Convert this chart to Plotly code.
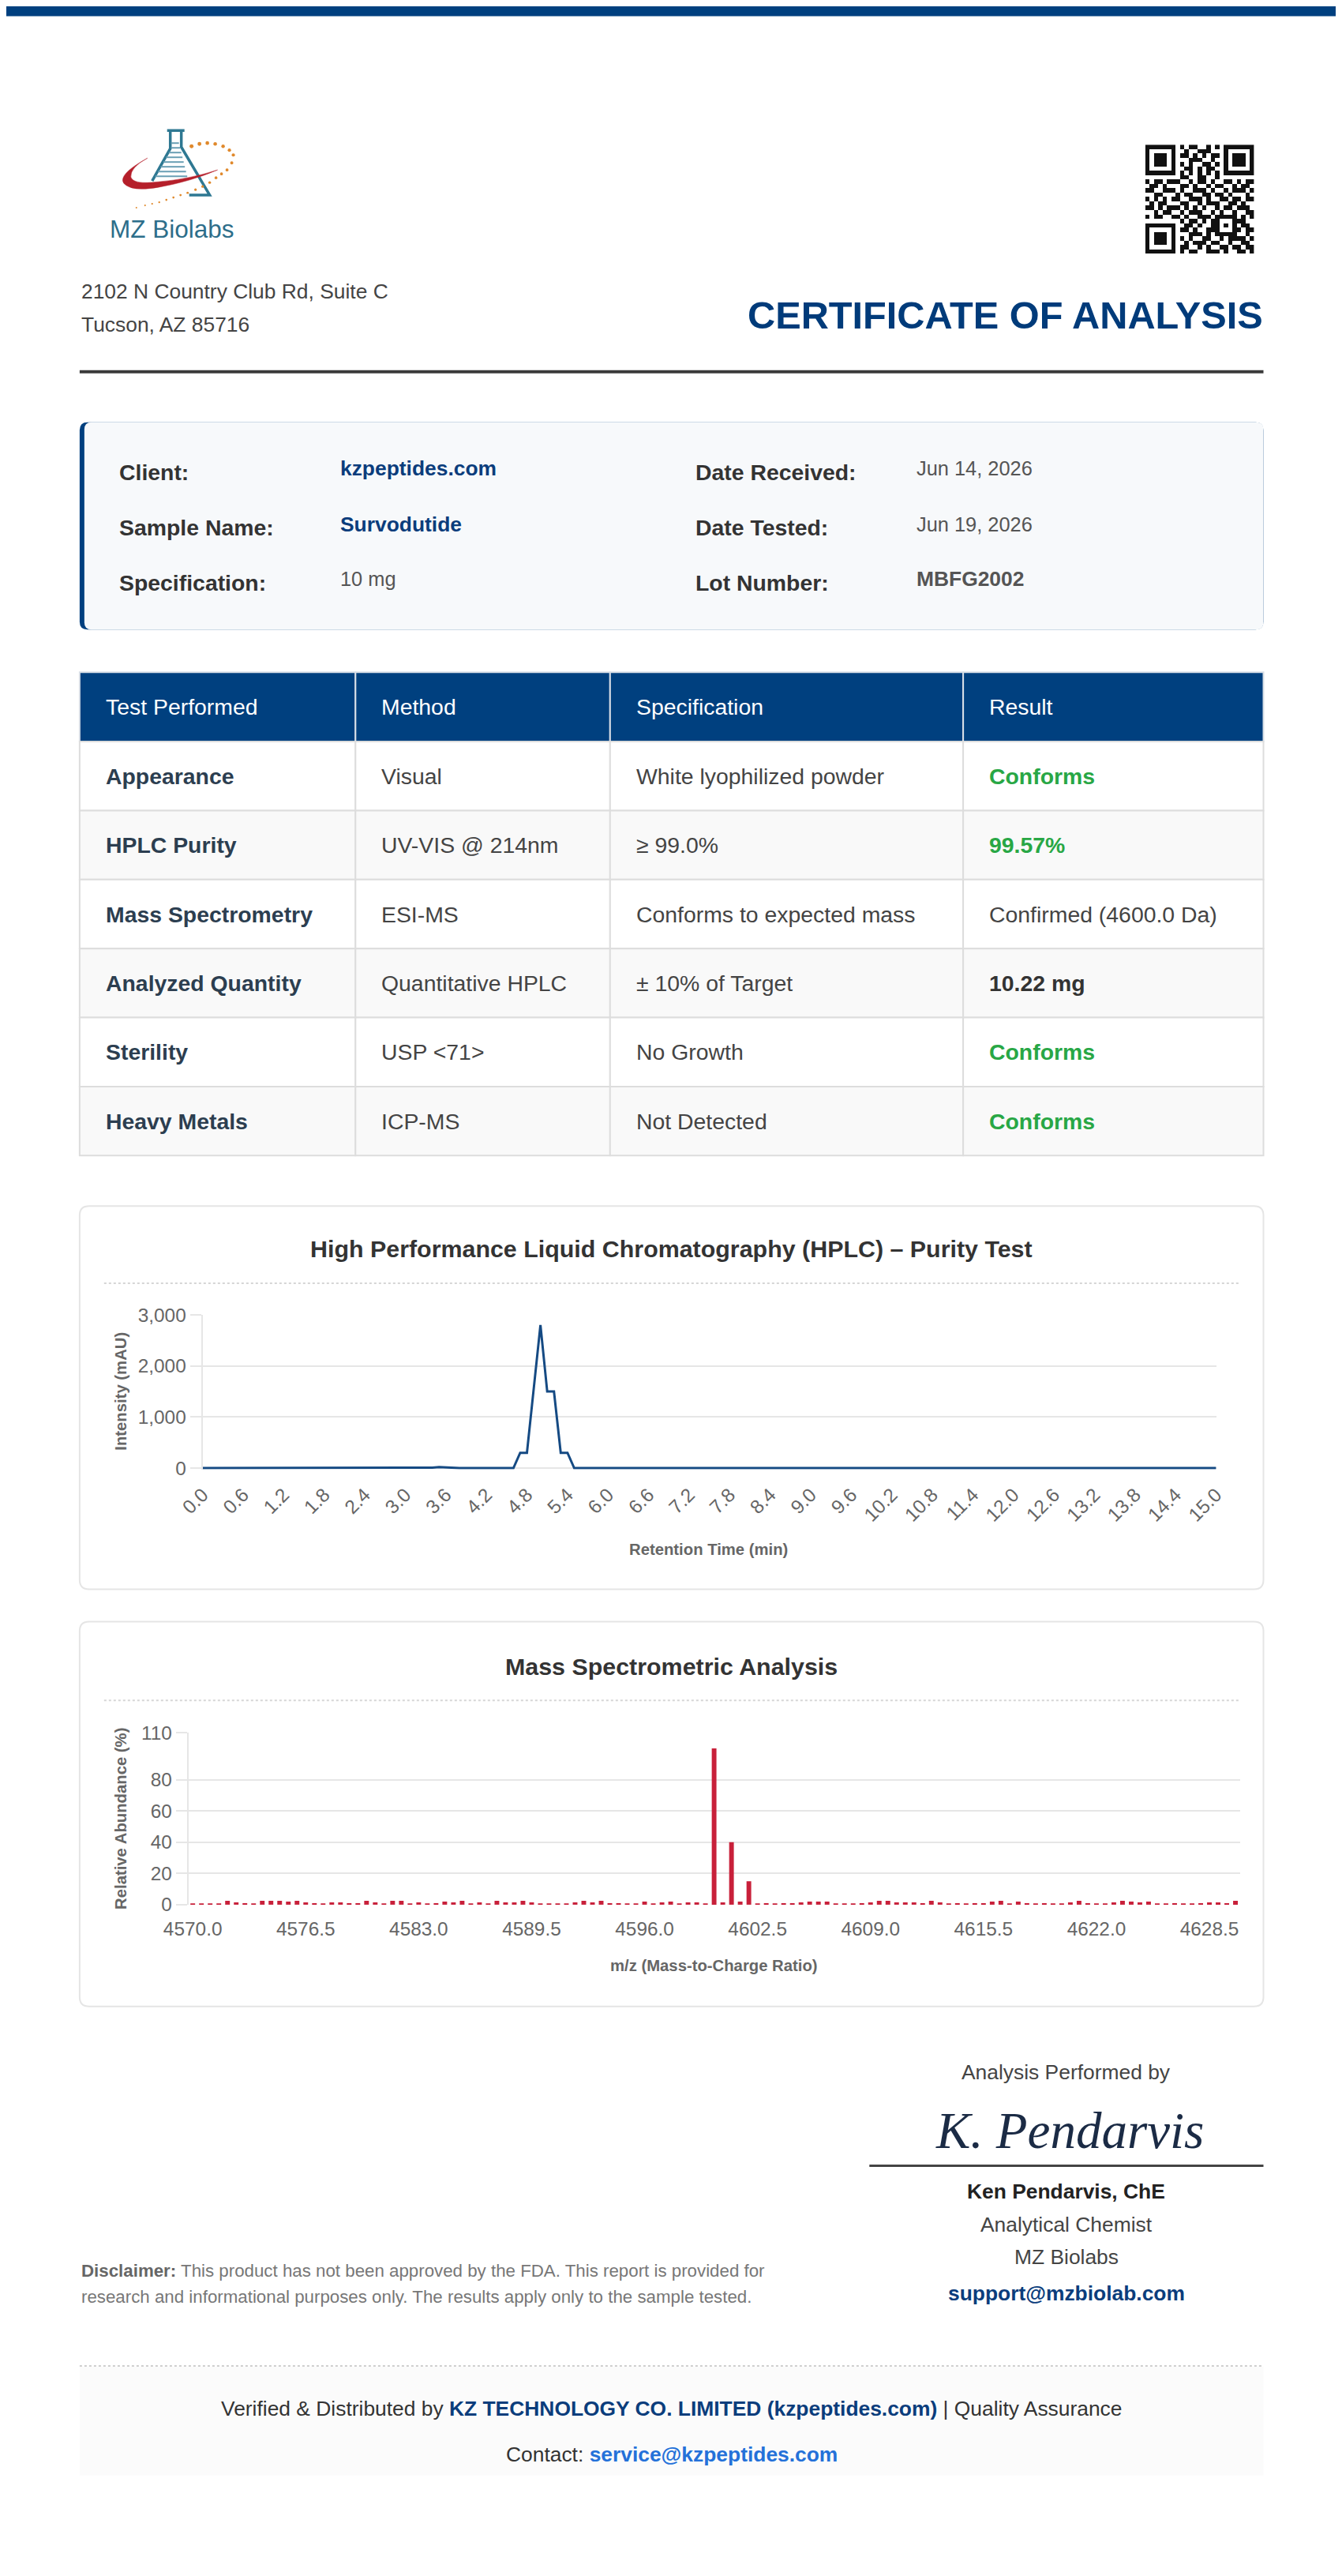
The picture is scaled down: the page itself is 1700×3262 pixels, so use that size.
import html
import plotly.graph_objects as go

# The page body keeps its default 8px margin, so the figure is 16px smaller than the window.
# The photographed page also comes back slightly offset and squeezed, so every position
# measured on the 1700x3262 reference goes through a small linear correction.
PAGE_W, PAGE_H, OFF = 1700, 3262, 8
W, H = PAGE_W - 2 * OFF, PAGE_H - 2 * OFF
KX, BX = 1.0252, -32.0
KY, BY = 1.0069, -14.7
FS = 1.015   # font size correction for the horizontal squeeze

SANS = "Liberation Sans, Arial, Helvetica, sans-serif"
SERIF = "Liberation Serif, Times New Roman, serif"

NAVY = "#00407f"
TITLE_BLUE = "#003b7a"
LINK_BLUE = "#0b3d7c"
GREEN = "#28a745"
GRID = "#e6e6e6"
TICK = "#666666"

# ---------------- data ----------------
hplc_time = [round(i * 0.1, 1) for i in range(151)]   # minutes, 0.1 min sampling
hplc_mau = [
    0, 0, 0, 0, 0, 0, 0, 0, 0, 0,
    0, 0, 0, 0, 0, 0, 0, 0, 0, 0,
    0, 0, 0, 0, 0, 0, 0, 0, 0, 0,
    0, 0, 0, 0, 10, 20, 10, 0, 0, 0,
    0, 0, 0, 0, 0, 0, 0, 300, 300, 1550,
    2800, 1500, 1500, 300, 300, 0, 0, 0, 0, 0,
    0, 0, 0, 0, 0, 0, 0, 0, 0, 0,
    0, 0, 0, 0, 0, 0, 0, 0, 0, 0,
    0, 0, 0, 0, 0, 0, 0, 0, 0, 0,
    0, 0, 0, 0, 0, 0, 0, 0, 0, 0,
    0, 0, 0, 0, 0, 0, 0, 0, 0, 0,
    0, 0, 0, 0, 0, 0, 0, 0, 0, 0,
    5, 0, 0, 0, 0, 0, 0, 0, 0, 0,
    0, 0, 5, 0, 0, 0, 0, 0, 0, 0,
    0, 0, 0, 0, 0, 0, 0, 0, 0, 0,
    0,
]

ms_mz = [4570.0 + 0.5 * i for i in range(121)]      # m/z bins, 0.5 step
ms_abundance = [
    0.5, 0.5, 0.5, 0.5, 2.5, 1.5, 1.0, 0.5, 2.5, 2.5,
    2.5, 2.0, 2.5, 1.5, 1.0, 0.5, 1.5, 1.5, 1.0, 1.0,
    2.5, 1.5, 0.5, 2.5, 2.5, 0.5, 1.5, 0.5, 1.0, 2.0,
    1.5, 2.5, 0.5, 1.5, 0.5, 2.5, 1.5, 1.5, 2.5, 1.5,
    0.5, 0.5, 0.5, 0.5, 1.5, 2.5, 1.5, 2.5, 1.0, 1.0,
    0.5, 0.5, 2.0, 0.5, 1.5, 2.0, 0.5, 1.5, 1.5, 0.5,
    100, 1.5, 40, 2.0, 15, 0.5, 1.0, 0.5, 1.0, 1.0,
    1.5, 2.0, 2.0, 2.0, 0.5, 0.5, 0.5, 1.0, 1.5, 2.5,
    2.5, 1.5, 1.5, 1.5, 1.0, 2.5, 1.5, 0.5, 1.0, 0.5,
    1.0, 1.0, 2.0, 2.5, 0.5, 2.0, 1.0, 0.5, 1.0, 0.5,
    0.5, 1.5, 2.5, 1.0, 0.5, 0.5, 1.5, 2.5, 2.0, 1.5,
    2.0, 0.5, 0.5, 1.0, 0.5, 0.5, 1.0, 1.5, 1.5, 1.0,
    2.5,
]

table_headers = ["Test Performed", "Method", "Specification", "Result"]
test_names = ["Appearance", "HPLC Purity", "Mass Spectrometry",
              "Analyzed Quantity", "Sterility", "Heavy Metals"]
test_methods = ["Visual", "UV-VIS @ 214nm", "ESI-MS", "Quantitative HPLC",
                "USP <71>", "ICP-MS"]
test_specs = ["White lyophilized powder", "≥ 99.0%", "Conforms to expected mass",
              "± 10% of Target", "No Growth", "Not Detected"]
test_results = ["Conforms", "99.57%", "Confirmed (4600.0 Da)", "10.22 mg",
                "Conforms", "Conforms"]
result_kind = ["pass", "pass", "plain", "strong", "pass", "pass"]

info_labels_left = ["Client:", "Sample Name:", "Specification:"]
info_values_left = ["kzpeptides.com", "Survodutide", "10 mg"]
info_labels_right = ["Date Received:", "Date Tested:", "Lot Number:"]
info_values_right = ["Jun 14, 2026", "Jun 19, 2026", "MBFG2002"]

# hand-drawn stand-in for the QR code (1 = dark module)
qr_rows = [
    "1111111" + "0" + "101100101" + "0" + "1111111",
    "1000001" + "0" + "010011100" + "0" + "1000001",
    "1011101" + "0" + "110101011" + "0" + "1011101",
    "1011101" + "0" + "001110010" + "0" + "1011101",
    "1011101" + "0" + "101001101" + "0" + "1011101",
    "1000001" + "0" + "011010110" + "0" + "1000001",
    "1111111" + "0" + "101010101" + "0" + "1111111",
    "00000000" + "110011001" + "00000000",
    "1011011100101101001101011",
    "0110100011010010110010110",
    "1100111010011101001011101",
    "0011000101100110110100010",
    "1010101100111010011011011",
    "0101100011001011100110100",
    "1101011101010100101101110",
    "0010110010111001010010011",
    "1011001101001110" + "11111" + "0101",
    "00000000" + "10110101" + "10001" + "1100",
    "1111111" + "0" + "01101001" + "10101" + "0110",
    "1000001" + "0" + "11010011" + "10001" + "1011",
    "1011101" + "0" + "00111010" + "11111" + "0010",
    "1011101" + "0" + "10100110" + "01011" + "1101",
    "1011101" + "0" + "01011101" + "10010" + "0110",
    "1000001" + "0" + "11001010" + "01101" + "1011",
    "1111111" + "0" + "10110011" + "10100" + "1101",
]


# ---------------- helpers (reference pixel -> paper) ----------------
def X(px):
    return (KX * px + BX - OFF) / W


def Y(py):
    return 1 - (KY * py + BY - OFF) / H


def pt(x, y):
    return f"{X(x):.6f},{Y(y):.6f}"


def fs(size):
    return round(size * FS, 1)


def rect(x0, y0, x1, y1, fill, line=None, lw=0):
    return dict(type="rect", xref="paper", yref="paper", layer="below",
                x0=X(x0), x1=X(x1), y0=Y(y1), y1=Y(y0), fillcolor=fill,
                line=dict(color=line or fill, width=lw))


def rrect(x0, y0, x1, y1, r, fill, line=None, lw=0):
    p = (f"M {pt(x0 + r, y0)} L {pt(x1 - r, y0)} Q {pt(x1, y0)} {pt(x1, y0 + r)} "
         f"L {pt(x1, y1 - r)} Q {pt(x1, y1)} {pt(x1 - r, y1)} "
         f"L {pt(x0 + r, y1)} Q {pt(x0, y1)} {pt(x0, y1 - r)} "
         f"L {pt(x0, y0 + r)} Q {pt(x0, y0)} {pt(x0 + r, y0)} Z")
    return dict(type="path", xref="paper", yref="paper", layer="below", path=p,
                fillcolor=fill, line=dict(color=line or fill, width=lw))


def hline(x0, x1, y, color, width, dash="solid"):
    return dict(type="line", xref="paper", yref="paper", layer="below",
                x0=X(x0), x1=X(x1), y0=Y(y), y1=Y(y),
                line=dict(color=color, width=width, dash=dash))


def label(x, y, s, size, color, anchor="left", family=SANS, angle=0):
    return dict(xref="paper", yref="paper", x=X(x), y=Y(y), text=s,
                showarrow=False, xanchor=anchor, yanchor="middle",
                textangle=angle, font=dict(size=fs(size), color=color, family=family))


def esc(s):
    return html.escape(s, quote=False)


shapes = []
notes = []

# ---------------- page header ----------------
shapes.append(rect(-40, -30, PAGE_W + 40, 22, NAVY))

# logo: flask, red swoosh, orange dotted orbit
teal = "#2e7892"
shapes.append(dict(type="path", xref="paper", yref="paper",
                   path=(f"M {pt(211, 167)} L {pt(233, 167)} "
                         f"M {pt(215, 168)} L {pt(215, 190)} L {pt(192, 231)} "
                         f"M {pt(229, 168)} L {pt(229, 188)} L {pt(265, 249)} L {pt(239, 249)}"),
                   line=dict(color=teal, width=3.5)))
for gy in [183, 189, 195, 201, 207, 213, 219, 225]:
    gx0 = 216 if gy <= 190 else 216 - (gy - 190) * 0.57
    gx1 = 226 + (gy - 183) * 0.25
    shapes.append(dict(type="line", xref="paper", yref="paper",
                       x0=X(gx0), x1=X(gx1), y0=Y(gy), y1=Y(gy),
                       line=dict(color="#6a9fb4", width=2)))
shapes.append(dict(type="path", xref="paper", yref="paper",
                   path=(f"M {pt(186, 202)} Q {pt(148, 223)} {pt(156, 234)} "
                         f"Q {pt(166, 245)} {pt(200, 239)} Q {pt(240, 232)} {pt(275, 217)} "
                         f"Q {pt(238, 229)} {pt(200, 232)} Q {pt(168, 236)} {pt(165, 226)} "
                         f"Q {pt(164, 214)} {pt(186, 202)} Z"),
                   fillcolor="#b51f2a", line=dict(color="#b51f2a", width=0.5)))
orbit = [(242, 187), (252, 184), (262, 183), (272, 184), (282, 187), (290, 192),
         (295, 198), (293, 208), (287, 217), (280, 222), (273, 227), (265, 233),
         (256, 238), (247, 242), (237, 246), (228, 249), (219, 252), (210, 255),
         (201, 258), (192, 260), (183, 262), (172, 265)]
for k, (cx, cy) in enumerate(orbit):
    r = 2.5 - 1.5 * k / (len(orbit) - 1)
    shapes.append(dict(type="circle", xref="paper", yref="paper",
                       x0=X(cx - r), x1=X(cx + r), y0=Y(cy + r), y1=Y(cy - r),
                       fillcolor="#e0892c", line=dict(width=0)))
notes.append(label(217, 292, "MZ Biolabs", 31, "#2d6e8a", anchor="center"))

notes.append(label(100, 371, "2102 N Country Club Rd, Suite C", 26, "#444444"))
notes.append(label(100, 413, "Tucson, AZ 85716", 26, "#444444"))
notes.append(label(1603, 401, "<b>CERTIFICATE OF ANALYSIS</b>", 48, TITLE_BLUE, anchor="right"))
shapes.append(hline(100, 1602, 473, "#3a3a3a", 4))

# ---------------- sample info box ----------------
shapes.append(rrect(100, 537, 1602, 800, 10, NAVY))
shapes.append(rrect(106, 537, 1602, 800, 9, "#f7f9fb"))
info_rows_y = [600, 671, 741]
left_styles = [("b", LINK_BLUE, 26), ("b", LINK_BLUE, 26), ("", "#555555", 25)]
right_styles = [("", "#555555", 25), ("", "#555555", 25), ("b", "#555555", 26)]
for i, yy in enumerate(info_rows_y):
    notes.append(label(148, yy, f"<b>{info_labels_left[i]}</b>", 28, "#333333"))
    notes.append(label(879, yy, f"<b>{info_labels_right[i]}</b>", 28, "#333333"))
    for xx, val, (b, col, sz) in [(429, info_values_left[i], left_styles[i]),
                                  (1160, info_values_right[i], right_styles[i])]:
        txt = f"<b>{esc(val)}</b>" if b else esc(val)
        notes.append(label(xx, yy - 5, txt, sz, col))

# ---------------- results table ----------------
col_x = [100, 450, 773, 1221, 1602]
head_top, head_bot, row_h = 854, 942, 87.5
for c, head in enumerate(table_headers):
    shapes.append(rect(col_x[c], head_top, col_x[c + 1], head_bot, NAVY, "#d9dfe7", 2))
    notes.append(label(col_x[c] + 31, (head_top + head_bot) / 2, head, 28, "white"))
columns = [test_names, test_methods, test_specs, test_results]
for r in range(len(test_names)):
    y0 = head_bot + r * row_h
    fill = "#ffffff" if r % 2 == 0 else "#f9f9f9"
    for c in range(4):
        shapes.append(rect(col_x[c], y0, col_x[c + 1], y0 + row_h, fill, "#dddddd", 2))
        val = esc(columns[c][r])
        color = "#444444"
        if c == 0:
            val, color = f"<b>{val}</b>", "#2c3e50"
        elif c == 3:
            if result_kind[r] == "pass":
                val, color = f"<b>{val}</b>", GREEN
            elif result_kind[r] == "strong":
                val, color = f"<b>{val}</b>", "#333333"
        notes.append(label(col_x[c] + 31, y0 + row_h / 2, val, 28, color))

# ---------------- chart cards ----------------
for top, bot, title, ty, dy in [
        (1531, 2017, "High Performance Liquid Chromatography (HPLC) – Purity Test", 1585, 1629),
        (2058, 2546, "Mass Spectrometric Analysis", 2115, 2158)]:
    shapes.append(rrect(100, top, 1602, bot, 12, "#ffffff", "#e5e5e5", 2))
    notes.append(label(851, ty, f"<b>{title}</b>", 30, "#333333", anchor="center"))
    shapes.append(hline(131, 1571, dy, "#d6d6d6", 2, "dot"))

notes.append(label(898, 1966, "<b>Retention Time (min)</b>", 20, TICK, anchor="center"))
notes.append(label(152, 1766, "<b>Intensity (mAU)</b>", 20, TICK, anchor="center", angle=-90))
notes.append(label(905, 2494, "<b>m/z (Mass-to-Charge Ratio)</b>", 20, TICK, anchor="center"))
notes.append(label(152, 2308, "<b>Relative Abundance (%)</b>", 20, TICK, anchor="center", angle=-90))

# ---------------- signature / disclaimer / footer ----------------
notes.append(label(1352, 2629, "Analysis Performed by", 26, "#444444", anchor="center"))
notes.append(label(1356, 2703, "<i>K. Pendarvis</i>", 64, "#1b2b45", anchor="center", family=SERIF))
shapes.append(hline(1102, 1602, 2748, "#444444", 3))
notes.append(label(1352, 2781, "<b>Ken Pendarvis, ChE</b>", 26, "#222222", anchor="center"))
notes.append(label(1352, 2823, "Analytical Chemist", 26, "#444444", anchor="center"))
notes.append(label(1352, 2864, "MZ Biolabs", 26, "#444444", anchor="center"))
notes.append(label(1352, 2910, "<b>support@mzbiolab.com</b>", 26, LINK_BLUE, anchor="center"))

notes.append(label(100, 2881, "<span style='color:#666666'><b>Disclaimer:</b></span> This product has not "
                   "been approved by the FDA. This report is provided for", 22, "#777777"))
notes.append(label(100, 2914, "research and informational purposes only. The results apply only to "
                   "the sample tested.", 22, "#777777"))

shapes.append(rect(100, 3003, 1602, 3141, "#fbfbfb"))
shapes.append(hline(100, 1602, 3002, "#cfcfcf", 2, "dot"))
notes.append(label(851, 3056, "Verified &amp; Distributed by <b><span style='color:#0b3d7c'>KZ TECHNOLOGY "
                   "CO. LIMITED (kzpeptides.com)</span></b> | Quality Assurance", 26, "#333333",
                   anchor="center"))
notes.append(label(851, 3114, "Contact: <b><span style='color:#2471d9'>service@kzpeptides.com</span></b>",
                   26, "#333333", anchor="center"))

# ---------------- traces ----------------
fig = go.Figure()
fig.add_trace(go.Scatter(x=hplc_time, y=hplc_mau, mode="lines", xaxis="x", yaxis="y",
                         line=dict(color="#154a83", width=3), hoverinfo="skip"))
fig.add_trace(go.Bar(x=ms_mz, y=ms_abundance, width=0.27, xaxis="x2", yaxis="y2",
                     marker=dict(color="#c8203a", line=dict(width=0)), hoverinfo="skip"))
fig.add_trace(go.Heatmap(z=[[int(ch) for ch in row] for row in qr_rows], xaxis="x3", yaxis="y3",
                         colorscale=[[0, "#ffffff"], [1, "#111111"]], zmin=0, zmax=1,
                         showscale=False, hoverinfo="skip"))

tickfont = dict(size=fs(24), color=TICK, family=SANS)
yaxis_common = dict(showgrid=True, gridcolor=GRID, gridwidth=2, zeroline=False,
                    showline=True, linecolor=GRID, linewidth=2, ticks="outside",
                    ticklen=14, tickwidth=2, tickcolor=GRID, tickfont=tickfont, fixedrange=True)

fig.update_layout(
    width=W, height=H, autosize=False,
    margin=dict(l=0, r=0, t=0, b=0),
    paper_bgcolor="white", plot_bgcolor="rgba(0,0,0,0)",
    showlegend=False, hovermode=False,
    font=dict(family=SANS),
    shapes=shapes, annotations=notes,
    xaxis=dict(domain=[X(256), X(1542)], anchor="y", range=[0, 15.00001],
               tick0=0, dtick=0.6, tickformat=".1f", tickangle=-45,
               showgrid=False, zeroline=False, showline=False, ticks="",
               ticklabelstandoff=12, tickfont=tickfont, fixedrange=True),
    yaxis=dict(domain=[Y(1865), Y(1669)], anchor="x", range=[-25, 3000],
               tickvals=[0, 1000, 2000, 3000], tickformat=",", **yaxis_common),
    xaxis2=dict(domain=[X(238), X(1572)], anchor="y2", range=[4569.75, 4630.25],
                tick0=4570, dtick=6.5, tickformat=".1f", tickangle=0,
                showgrid=False, zeroline=False, showline=False, ticks="",
                ticklabelstandoff=14, tickfont=tickfont, fixedrange=True),
    yaxis2=dict(domain=[Y(2417), Y(2199)], anchor="x2", range=[0, 110],
                tickvals=[0, 20, 40, 60, 80, 110], **yaxis_common),
    xaxis3=dict(domain=[X(1452), X(1590)], anchor="y3", range=[-0.5, 24.5], visible=False),
    yaxis3=dict(domain=[Y(323), Y(185)], anchor="x3", range=[24.5, -0.5], visible=False),
)

fig.write_html("out.html", config={"displayModeBar": False})
